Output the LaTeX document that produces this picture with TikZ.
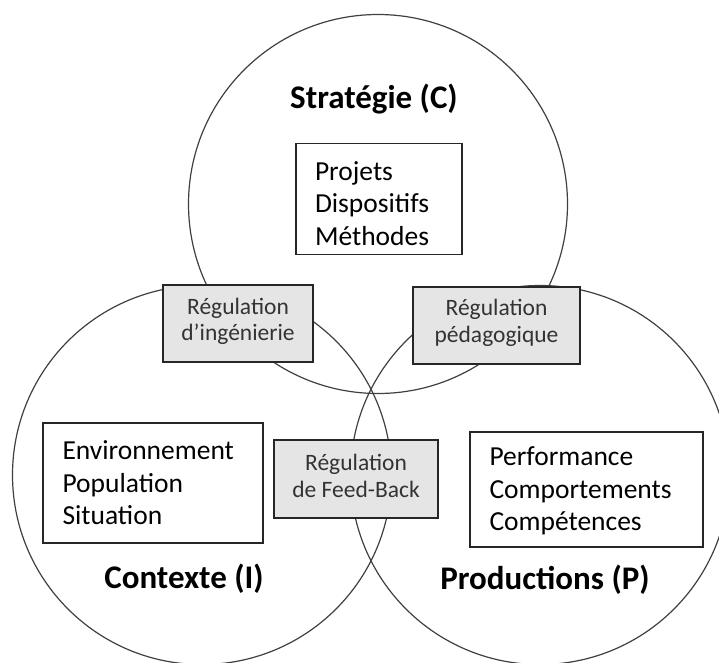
\documentclass[tikz,border=0pt]{standalone}
\usepackage{fontspec}
\setmainfont{Carlito}
\begin{document}
\begin{tikzpicture}[x=1pt,y=-1pt,
  ring/.style={circle, draw=black!75, line width=1.2pt, minimum size=379pt, inner sep=0pt},
  plainbox/.style={rectangle, draw=black!85, line width=1.4pt, fill=white, inner sep=0pt},
  regbox/.style={rectangle, draw=black!85, line width=1.4pt, fill=black!10, inner sep=0pt,
    align=center, text=black!80, font=\fontsize{23.5}{26.5}\selectfont},
  items/.style={align=left, inner sep=0pt, font=\fontsize{27.5}{32.5}\selectfont},
  title/.style={inner sep=0pt, font=\fontsize{33}{38}\selectfont\bfseries}]
\useasboundingbox (0,0) rectangle (719,662);

% the three domains
\node[ring] (strategie)   at (378,204) {};
\node[ring] (contexte)    at (202,475) {};
\node[ring] (productions) at (540,475) {};

% titles
\node[title] (t-strat) at (374,99)  {Stratégie (C)};
\node[title] (t-ctx)   at (184,579) {Contexte (I)};
\node[title] (t-prod)  at (545,580) {Productions (P)};

% content boxes
\node[plainbox, minimum width=166pt, minimum height=111pt] (b-strat) at (379,199) {};
\node[items, anchor=west] (l-strat) at ([xshift=19.5pt,yshift=-4.5pt]b-strat.west)
  {Projets\\Dispositifs\\Méthodes};

\node[plainbox, minimum width=220pt, minimum height=120pt] (b-ctx) at (153,483) {};
\node[items, anchor=west] (l-ctx) at ([xshift=20pt]b-ctx.west)
  {Environnement\\Population\\Situation};

\node[plainbox, minimum width=233pt, minimum height=115pt] (b-prod) at (586.5,489.5) {};
\node[items, anchor=west] (l-prod) at ([xshift=20pt,yshift=-1.5pt]b-prod.west)
  {Performance\\Comportements\\Compétences};

% regulation boxes on the overlaps
\node[regbox, minimum width=150pt, minimum height=77pt] (r-ing)  at (238,323.5) {};
\node[align=center, text=black!80, font=\fontsize{23.5}{26.5}\selectfont, inner sep=0pt]
  (l-ing) at ([yshift=2pt]r-ing.center) {Régulation\\d’ingénierie};
\node[regbox, minimum width=167pt, minimum height=77pt] (r-peda) at (496.5,325.5) {};
\node[align=center, text=black!80, font=\fontsize{23.5}{26.5}\selectfont, inner sep=0pt]
  (l-peda) at ([yshift=2.5pt]r-peda.center) {Régulation\\pédagogique};
\node[regbox, minimum width=164pt, minimum height=78pt] (r-feed) at (356,479) {};
\node[align=center, text=black!80, font=\fontsize{23.5}{26.5}\selectfont, inner sep=0pt]
  (l-feed) at ([yshift=3pt]r-feed.center) {Régulation\\de Feed-Back};
\end{tikzpicture}
\end{document}
